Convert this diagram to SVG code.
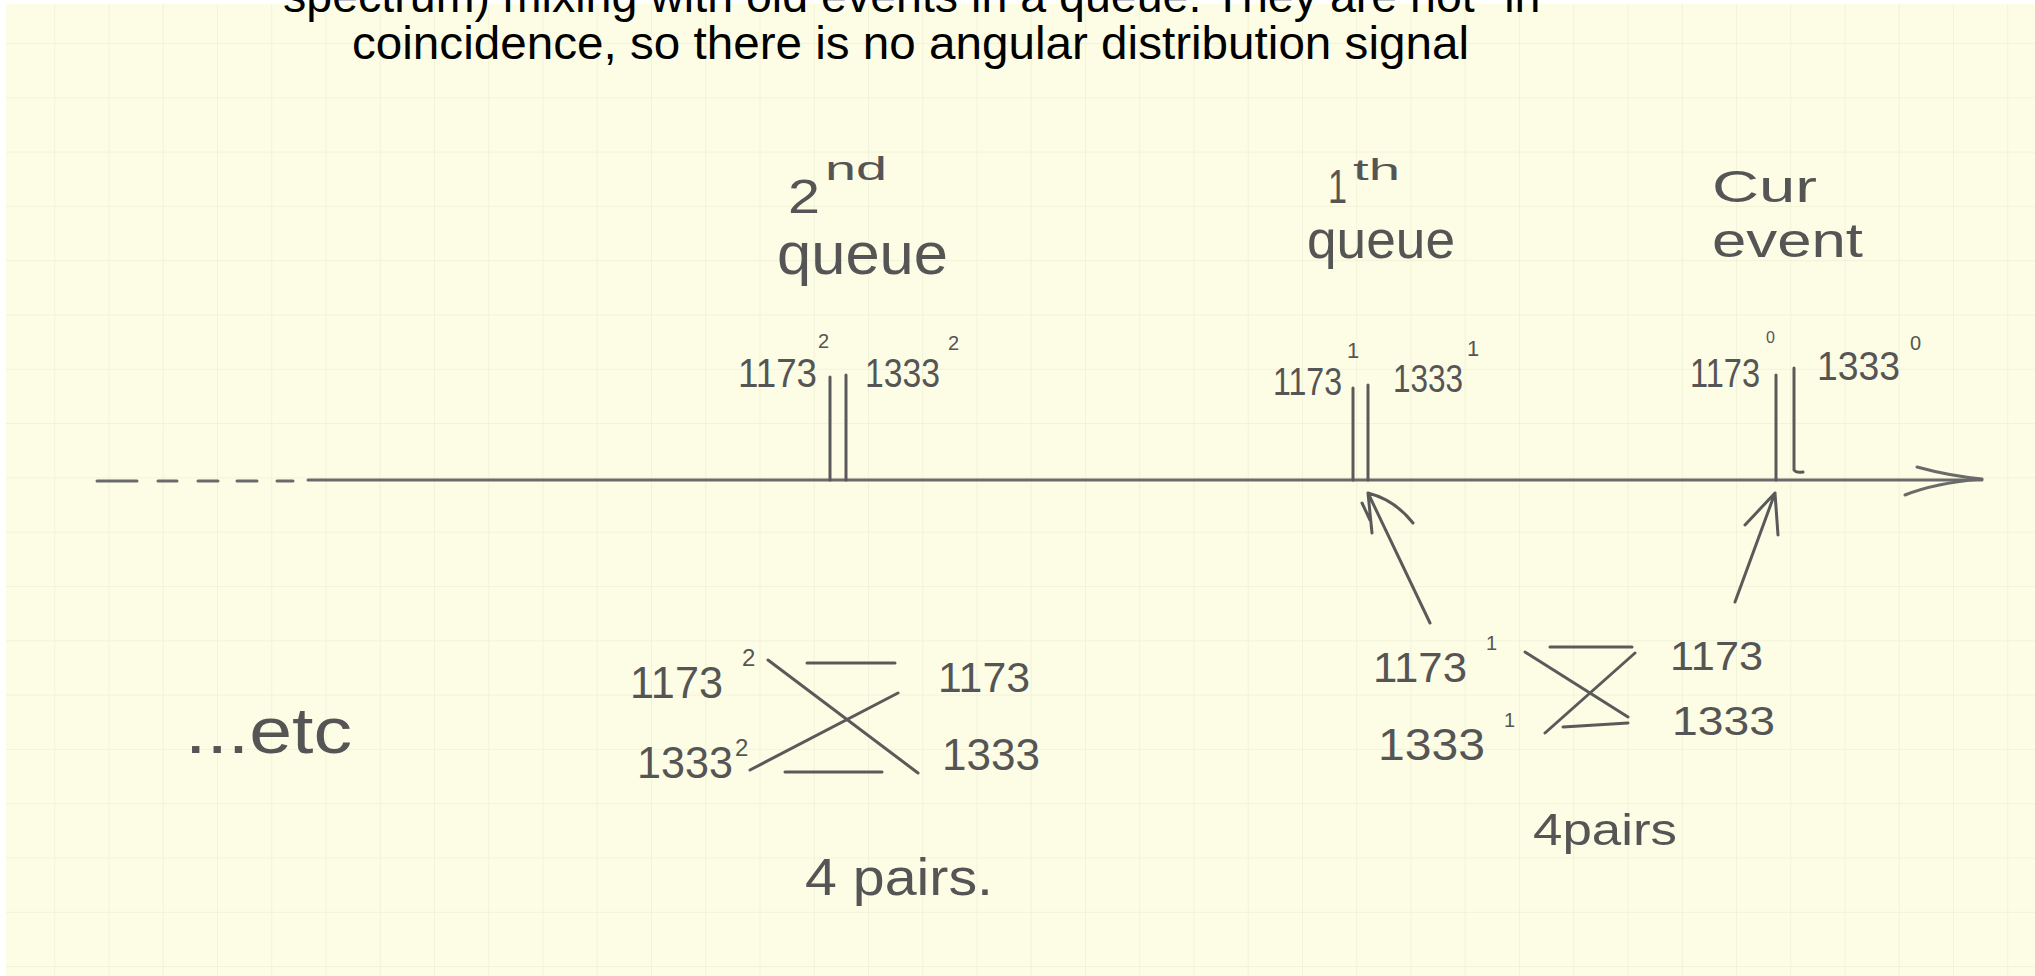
<svg xmlns="http://www.w3.org/2000/svg" width="2035" height="976" viewBox="0 0 2035 976">
<style>
.title{font-family:"Liberation Sans",Arial,sans-serif;font-size:47px;fill:#000}
.hw{font-family:"Liberation Sans","DejaVu Sans",sans-serif;fill:#555;}
.ink{stroke:#5a5a5a;stroke-width:3;fill:none;stroke-linecap:round;stroke-linejoin:round}
.axis{stroke:#6a6a6a;stroke-width:3;fill:none;stroke-linecap:round}
</style>
<defs>
<pattern id="grid" x="0" y="-11.3" width="54.25" height="54.3" patternUnits="userSpaceOnUse">
<path d="M0 0V54.3M0 0H54.25" stroke="#eef1d6" stroke-width="1.5" fill="none"/>
</pattern>
</defs>
<rect width="2035" height="976" fill="#ffffff"/>
<rect x="6" y="4" width="2029" height="972" fill="#fcfde4"/>
<rect x="6" y="4" width="2029" height="972" fill="url(#grid)"/>

<g id="title">
<text class="title" x="283" y="12" textLength="1274" lengthAdjust="spacingAndGlyphs">spectrum) mixing with old events in a queue. They are not "in"</text>
<text class="title" x="352" y="59" textLength="1117" lengthAdjust="spacingAndGlyphs">coincidence, so there is no angular distribution signal</text>
</g>

<g id="connectors">
<!-- time axis -->
<path class="axis" d="M97 481H137M158 481H177M198 481H218M237 481H257M277 481H293M308 480H1982"/>
<path class="axis" d="M1917 467Q1950 476 1982 479M1905 495Q1935 483 1982 479"/>
<!-- up arrows -->
<path class="ink" d="M1430 623L1368 493M1368 493L1372 533M1368 493Q1395 500 1413 523M1362 503L1370 520"/>
<path class="ink" d="M1735 602L1775 493M1775 493L1745 525M1775 493L1778 535"/>
<!-- 2nd queue pairing -->
<path class="ink" d="M807 663H895M785 772H882M768 660L918 773M750 770L898 693"/>
<!-- 1st queue pairing -->
<path class="ink" d="M1550 647H1632M1563 727L1628 723M1525 652L1628 717M1545 733L1635 653"/>
</g>

<g id="node-2nd-queue">
<text class="hw" x="788" y="213" font-size="48" textLength="32" lengthAdjust="spacingAndGlyphs">2</text>
<text class="hw" x="825" y="180" font-size="34" textLength="62" lengthAdjust="spacingAndGlyphs">nd</text>
<text class="hw" x="777" y="274" font-size="60" textLength="171" lengthAdjust="spacingAndGlyphs">queue</text>
<path class="ink" d="M830 377V480M846 375V480"/>
<text class="hw" x="738" y="387" font-size="40" textLength="79" lengthAdjust="spacingAndGlyphs">1173</text>
<text class="hw" x="818" y="348" font-size="20">2</text>
<text class="hw" x="865" y="387" font-size="40" textLength="75" lengthAdjust="spacingAndGlyphs">1333</text>
<text class="hw" x="948" y="350" font-size="20">2</text>
</g>

<g id="node-1st-queue">
<text class="hw" x="1328" y="203" font-size="48" textLength="19" lengthAdjust="spacingAndGlyphs">1</text>
<text class="hw" x="1353" y="180" font-size="30" textLength="47" lengthAdjust="spacingAndGlyphs">th</text>
<text class="hw" x="1307" y="258" font-size="54" textLength="148" lengthAdjust="spacingAndGlyphs">queue</text>
<path class="ink" d="M1353 388V480M1368 385V480"/>
<text class="hw" x="1273" y="395" font-size="38" textLength="69" lengthAdjust="spacingAndGlyphs">1173</text>
<text class="hw" x="1347" y="358" font-size="22">1</text>
<text class="hw" x="1393" y="392" font-size="38" textLength="70" lengthAdjust="spacingAndGlyphs">1333</text>
<text class="hw" x="1467" y="356" font-size="22">1</text>
</g>

<g id="node-cur-event">
<text class="hw" x="1712" y="202" font-size="45" textLength="105" lengthAdjust="spacingAndGlyphs">Cur</text>
<text class="hw" x="1712" y="257" font-size="48" textLength="151" lengthAdjust="spacingAndGlyphs">event</text>
<path class="ink" d="M1776 375V480M1794 368V470Q1796 473 1803 472"/>
<text class="hw" x="1690" y="387" font-size="40" textLength="70" lengthAdjust="spacingAndGlyphs">1173</text>
<text class="hw" x="1766" y="343" font-size="16">0</text>
<text class="hw" x="1817" y="380" font-size="40" textLength="83" lengthAdjust="spacingAndGlyphs">1333</text>
<text class="hw" x="1910" y="350" font-size="20">0</text>
</g>

<g id="pairs-2nd-queue">
<text class="hw" x="630" y="698" font-size="44" textLength="93" lengthAdjust="spacingAndGlyphs">1173</text>
<text class="hw" x="742" y="666" font-size="24">2</text>
<text class="hw" x="637" y="778" font-size="44" textLength="96" lengthAdjust="spacingAndGlyphs">1333</text>
<text class="hw" x="735" y="756" font-size="24">2</text>
<text class="hw" x="938" y="692" font-size="42" textLength="92" lengthAdjust="spacingAndGlyphs">1173</text>
<text class="hw" x="942" y="770" font-size="44" textLength="98" lengthAdjust="spacingAndGlyphs">1333</text>
<text class="hw" x="805" y="895" font-size="52" textLength="188" lengthAdjust="spacingAndGlyphs">4 pairs.</text>
</g>

<g id="pairs-1st-queue">
<text class="hw" x="1373" y="682" font-size="42" textLength="94" lengthAdjust="spacingAndGlyphs">1173</text>
<text class="hw" x="1486" y="650" font-size="20">1</text>
<text class="hw" x="1378" y="760" font-size="44" textLength="107" lengthAdjust="spacingAndGlyphs">1333</text>
<text class="hw" x="1504" y="727" font-size="20">1</text>
<text class="hw" x="1670" y="670" font-size="40" textLength="93" lengthAdjust="spacingAndGlyphs">1173</text>
<text class="hw" x="1672" y="735" font-size="40" textLength="103" lengthAdjust="spacingAndGlyphs">1333</text>
<text class="hw" x="1533" y="845" font-size="44" textLength="144" lengthAdjust="spacingAndGlyphs">4pairs</text>
</g>

<g id="etc">
<text class="hw" x="185" y="753" font-size="64" textLength="167" lengthAdjust="spacingAndGlyphs">...etc</text>
</g>
</svg>
